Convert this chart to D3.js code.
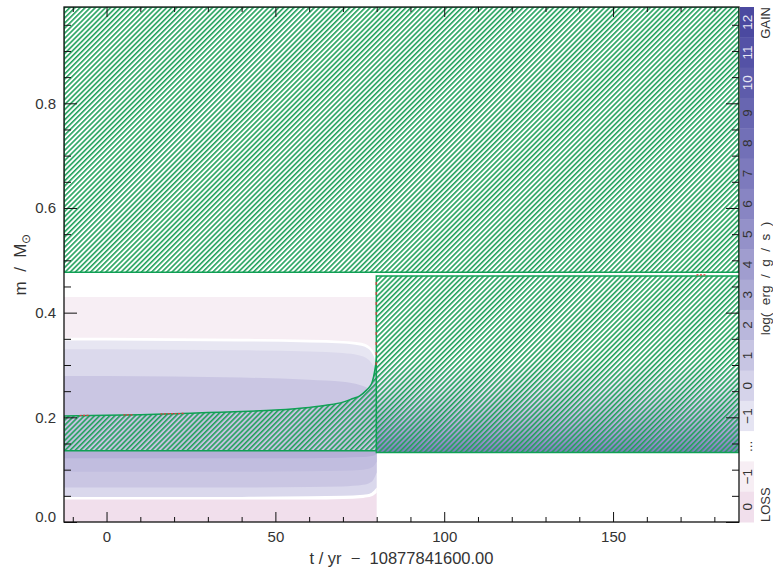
<!DOCTYPE html>
<html><head><meta charset="utf-8">
<script src="https://cdn.jsdelivr.net/npm/d3@7"></script>
<style>body{margin:0;background:#fff}svg{display:block}text{font-family:"Liberation Sans",Arial,sans-serif}</style>
</head><body><svg id="c" width="773" height="572"></svg>
<script>
// ---------- data ----------
const timeDomain = [-12.6, 187.3];
const massDomain = [0, 0.984];
const xMajorTicks = [0, 50, 100, 150];
const xMinorTicks = [-10, 10, 20, 30, 40, 60, 70, 80, 90, 110, 120, 130, 140, 160, 170, 180];
const yMajorTicks = [0, 0.2, 0.4, 0.6, 0.8];
const yMinorTicks = [0.05, 0.1, 0.15, 0.25, 0.3, 0.35, 0.45, 0.5, 0.55, 0.65, 0.7, 0.75, 0.85, 0.9, 0.95];
const xTickLabels = ["0", "50", "100", "150"];
const yTickLabels = ["0.0", "0.2", "0.4", "0.6", "0.8"];

// convective envelope (whole run)
const envelopeTimes = [-12.6, 187.3];
const envelopeBottom = [0.477, 0.477];
const envelopeTop = [0.984, 0.984];

// convective core before the jump
const coreTimes = [-12.6, 0, 10, 20, 30, 40, 50, 60, 65, 70, 73, 75, 77, 78, 78.6, 79.1, 79.5, 79.8, 80];
const coreTop = [0.2025, 0.204, 0.205, 0.207, 0.209, 0.211, 0.214, 0.219, 0.223, 0.229, 0.236, 0.241, 0.252, 0.259, 0.266, 0.278, 0.292, 0.305, 0.316];
const coreBottom = [0.136, 0.136, 0.136, 0.136, 0.136, 0.136, 0.136, 0.136, 0.136, 0.136, 0.136, 0.136, 0.136, 0.136, 0.136, 0.136, 0.136, 0.136, 0.136];

// convective zone after the jump
const zone2Times = [79.9, 187.3];
const zone2Top = [0.470, 0.470];
const zone2Bottom = [0.133, 0.133];
const zone2GradMass = [0.133, 0.16, 0.2, 0.25, 0.31];
const zone2GradColor = ["#7e7bbd", "#9996cc", "#bbb8dd", "#e2e0f1", "#ffffff"];

// burning regions above the core (top boundaries)
const upperTimes = [-12.6, 0, 20, 40, 60, 70, 75, 77, 78.6, 79.5, 80];
const upperLossM1Top = [0.430, 0.430, 0.430, 0.430, 0.430, 0.430, 0.430, 0.430, 0.430, 0.430, 0.430];
const upperGapTop = [0.352, 0.352, 0.351, 0.350, 0.348, 0.346, 0.343, 0.339, 0.330, 0.318, 0.300];
const upperGainM1Top = [0.347, 0.347, 0.346, 0.345, 0.343, 0.341, 0.337, 0.333, 0.323, 0.310, 0.295];
const upperGain0Top = [0.330, 0.330, 0.329, 0.328, 0.326, 0.323, 0.318, 0.313, 0.303, 0.292, 0.280];
const upperGain1Top = [0.279, 0.279, 0.278, 0.276, 0.272, 0.268, 0.262, 0.257, 0.250, 0.245, 0.240];

// burning regions below the core (bottom boundaries)
const lowerTimes = [-12.6, 20, 40, 60, 70, 76, 78.5, 79.5, 80];
const lowerLoss0Bottom = [0, 0, 0, 0, 0, 0, 0, 0, 0];
const lowerGapBottom = [0.043, 0.043, 0.043, 0.043, 0.044, 0.046, 0.049, 0.053, 0.056];
const lowerGain0Bottom = [0.048, 0.048, 0.048, 0.049, 0.050, 0.052, 0.056, 0.062, 0.066];
const lowerGain1Bottom = [0.066, 0.066, 0.066, 0.067, 0.068, 0.071, 0.077, 0.087, 0.095];
const lowerGain2Bottom = [0.096, 0.096, 0.096, 0.097, 0.098, 0.100, 0.104, 0.110, 0.115];
const lowerGain3Bottom = [0.122, 0.122, 0.122, 0.122, 0.123, 0.124, 0.126, 0.128, 0.130];

// overshoot marks
const redTimes = [[79.85, 79.85], [174.7, 177.4], [-8, -5], [5, 8], [16, 23]];
const redMass = [[0.30, 0.47], [0.4723, 0.4723], [0.2035, 0.2037], [0.2045, 0.2047], [0.2065, 0.2075]];

// colour bar
const cbLabels = ["12", "11", "10", "9", "8", "7", "6", "5", "4", "3", "2", "1", "0", "\u22121", "...", "\u22121", "0"];
const cbColors = ["#4b49a0", "#5452a6", "#5e5cab", "#6866b1", "#7270b7", "#7d7abd", "#8885c3", "#9491c9", "#a09dcf", "#acaad5", "#b9b7dc", "#c7c5e3", "#d5d3ea", "#e5e4f2", "#ffffff", "#f7eef4", "#f1dfec"];
const cbLabelColors = ["#e8e8f4", "#e8e8f4", "#e8e8f4", "#333", "#333", "#333", "#333", "#333", "#333", "#333", "#333", "#333", "#333", "#333", "#333", "#333", "#333"];

// ---------- drawing ----------
const L = 64, R = 739, T = 7, B = 522;
const svg = d3.select("#c");
const x = d3.scaleLinear().domain(timeDomain).range([L, R]);
const y = d3.scaleLinear().domain(massDomain).range([B, T]);

const defs = svg.append("defs");
const pat = defs.append("pattern").attr("id", "hatch").attr("patternUnits", "userSpaceOnUse")
  .attr("width", 3.6).attr("height", 3.6).attr("patternTransform", "rotate(45)");
pat.append("rect").attr("x", 0).attr("y", 0).attr("width", 1.6).attr("height", 3.6).attr("fill", "#22a15c");
defs.append("clipPath").attr("id", "plotclip").append("rect").attr("x", L).attr("y", T).attr("width", R - L).attr("height", B - T);

const grad = defs.append("linearGradient").attr("id", "z2grad").attr("gradientUnits", "userSpaceOnUse")
  .attr("x1", 0).attr("x2", 0).attr("y1", y(zone2GradMass[0])).attr("y2", y(zone2GradMass[zone2GradMass.length - 1]));
zone2GradMass.forEach((m, i) => {
  grad.append("stop").attr("offset", (m - zone2GradMass[0]) / (zone2GradMass[zone2GradMass.length - 1] - zone2GradMass[0])).attr("stop-color", zone2GradColor[i]);
});

const g = svg.append("g").attr("clip-path", "url(#plotclip)");

function band(times, lo, hi) {
  return d3.area().x((d, i) => x(times[i])).y0((d, i) => y(lo[i])).y1((d, i) => y(hi[i]))
    .curve(d3.curveMonotoneX)(times);
}
const fullTop = arr => arr.map(() => 0.136);

// lower burning bands
g.append("path").attr("d", band(lowerTimes, lowerLoss0Bottom, fullTop(lowerTimes))).attr("fill", cbColors[16]);
g.append("path").attr("d", band(lowerTimes, lowerGapBottom, fullTop(lowerTimes))).attr("fill", "#ffffff");
g.append("path").attr("d", band(lowerTimes, lowerGain0Bottom, fullTop(lowerTimes))).attr("fill", "#dad8ec");
g.append("path").attr("d", band(lowerTimes, lowerGain1Bottom, fullTop(lowerTimes))).attr("fill", "#cac6e3");
g.append("path").attr("d", band(lowerTimes, lowerGain2Bottom, fullTop(lowerTimes))).attr("fill", "#c1bddf");
g.append("path").attr("d", band(lowerTimes, lowerGain3Bottom, fullTop(lowerTimes))).attr("fill", "#b5b0d7");

// upper burning bands
const base = upperTimes.map(() => 0.136);
g.append("path").attr("d", band(upperTimes, base, upperLossM1Top)).attr("fill", cbColors[15]);
g.append("path").attr("d", band(upperTimes, base, upperGapTop)).attr("fill", "#ffffff");
g.append("path").attr("d", band(upperTimes, base, upperGainM1Top)).attr("fill", "#e7e6f2");
g.append("path").attr("d", band(upperTimes, base, upperGain0Top)).attr("fill", "#dbd9ec");
g.append("path").attr("d", band(upperTimes, base, upperGain1Top)).attr("fill", "#cac6e3");

// convective core
g.append("path").attr("d", band(coreTimes, coreBottom, coreTop)).attr("fill", "#c6c2e1");
g.append("path").attr("d", band(coreTimes, coreBottom, coreTop)).attr("fill", "url(#hatch)")
  .attr("stroke", "#10a055").attr("stroke-width", 1.5);

// zone 2
g.append("path").attr("d", band(zone2Times, zone2Bottom, zone2Top)).attr("fill", "url(#z2grad)");
g.append("path").attr("d", band(zone2Times, zone2Bottom, zone2Top)).attr("fill", "url(#hatch)")
  .attr("stroke", "#10a055").attr("stroke-width", 1.5);

// envelope
g.append("path").attr("d", band(envelopeTimes, envelopeBottom, envelopeTop)).attr("fill", "url(#hatch)")
  .attr("stroke", "#10a055").attr("stroke-width", 1.5);

// red overshoot marks
redTimes.forEach((tt, i) => {
  g.append("line").attr("x1", x(tt[0])).attr("x2", x(tt[1])).attr("y1", y(redMass[i][0])).attr("y2", y(redMass[i][1]))
    .attr("stroke", "#e8383d").attr("stroke-width", 1.2).attr("stroke-dasharray", i === 0 ? "3,7" : "2,1.5");
});

// axes
const fs = 15;
function styleAxis(sel) {
  sel.select(".domain").remove();
  sel.selectAll(".tick line").attr("stroke", "#111").attr("stroke-width", 1);
  sel.selectAll(".tick text").attr("fill", "#333").attr("font-size", fs).attr("font-family", "Liberation Sans, Arial, sans-serif");
}
svg.append("g").attr("transform", `translate(0,${B})`)
  .call(d3.axisBottom(x).tickValues(xMajorTicks).tickSize(-10).tickPadding(9).tickFormat((d, i) => xTickLabels[i])).call(styleAxis);
svg.append("g").attr("transform", `translate(0,${B})`)
  .call(d3.axisBottom(x).tickValues(xMinorTicks).tickSize(-5).tickFormat("")).call(styleAxis);
svg.append("g").attr("transform", `translate(0,${T})`)
  .call(d3.axisTop(x).tickValues(xMajorTicks).tickSize(-10).tickFormat("")).call(styleAxis);
svg.append("g").attr("transform", `translate(0,${T})`)
  .call(d3.axisTop(x).tickValues(xMinorTicks).tickSize(-5).tickFormat("")).call(styleAxis);
const yl = svg.append("g").attr("transform", `translate(${L},0)`)
  .call(d3.axisLeft(y).tickValues(yMajorTicks).tickSize(-13).tickPadding(8).tickFormat((d, i) => yTickLabels[i])).call(styleAxis);
yl.selectAll(".tick text").filter(d => d === 0).attr("dy", "-0.05em");
svg.append("g").attr("transform", `translate(${L},0)`)
  .call(d3.axisLeft(y).tickValues(yMinorTicks).tickSize(-7).tickFormat("")).call(styleAxis);
svg.append("g").attr("transform", `translate(${R},0)`)
  .call(d3.axisRight(y).tickValues(yMajorTicks).tickSize(-13).tickFormat("")).call(styleAxis);
svg.append("g").attr("transform", `translate(${R},0)`)
  .call(d3.axisRight(y).tickValues(yMinorTicks).tickSize(-7).tickFormat("")).call(styleAxis);

// frame
svg.append("rect").attr("x", L).attr("y", T).attr("width", R - L).attr("height", B - T)
  .attr("fill", "none").attr("stroke", "#111").attr("stroke-width", 1.3);

// axis titles
svg.append("text").attr("x", (L + R) / 2).attr("y", 564).attr("text-anchor", "middle")
  .attr("font-size", 16.5).attr("fill", "#333").attr("xml:space", "preserve").text("t / yr  \u2212  10877841600.00");
const ylab = svg.append("text").attr("transform", `translate(26,${(T + B) / 2}) rotate(-90)`).attr("text-anchor", "middle")
  .attr("font-size", 17).attr("fill", "#333").attr("xml:space", "preserve");
ylab.append("tspan").text("m  /  M");
ylab.append("tspan").attr("font-size", 12).attr("dy", 4).text("\u2299");

// colour bar
const cb = d3.scaleBand().domain(d3.range(cbLabels.length)).range([T, B]).paddingInner(0);
const cbx = 740, cbw = 14;
svg.append("g").selectAll("rect").data(cbLabels).join("rect")
  .attr("x", cbx).attr("y", (d, i) => cb(i)).attr("width", cbw).attr("height", cb.bandwidth() + 0.5)
  .attr("fill", (d, i) => cbColors[i]);
svg.append("g").selectAll("text").data(cbLabels).join("text")
  .attr("transform", (d, i) => `translate(${cbx + cbw / 2 + 5},${cb(i) + cb.bandwidth() / 2}) rotate(-90)`)
  .attr("text-anchor", "middle").attr("font-size", 13.5).attr("fill", (d, i) => cbLabelColors[i]).text(d => d);
svg.append("text").attr("transform", `translate(770,${T}) rotate(-90)`).attr("text-anchor", "end")
  .attr("font-size", 13).attr("fill", "#333").text("GAIN");
svg.append("text").attr("transform", `translate(770,${B}) rotate(-90)`).attr("text-anchor", "start")
  .attr("font-size", 13).attr("fill", "#333").text("LOSS");
svg.append("text").attr("transform", `translate(770,${(T + B) / 2 + 14}) rotate(-90)`).attr("text-anchor", "middle")
  .attr("font-size", 13.5).attr("fill", "#333").attr("xml:space", "preserve").text("log(  erg  /  g  /  s  )");
</script></body></html>
